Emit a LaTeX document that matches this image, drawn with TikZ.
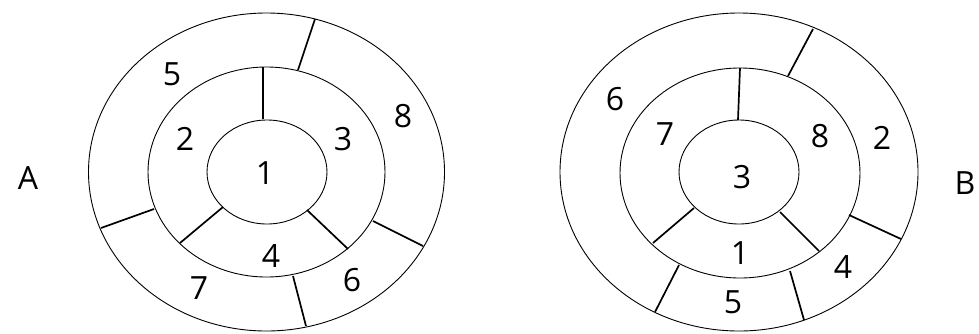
\documentclass[tikz,border=0pt]{standalone}
\usepackage{fontspec}
\setmainfont{Open Sans}
\begin{document}
\begin{tikzpicture}[x=1pt,y=-1pt,
  ring/.style={line width=0.9pt},
  divider/.style={line width=1.7pt},
  lab/.style={font=\fontsize{32}{32}\selectfont, inner sep=0pt}]
\useasboundingbox[fill=white] (0,0) rectangle (979,333);
% ---------- Diagram A ----------
\draw[ring] (266.5,172) ellipse [x radius=178, y radius=159];
\draw[ring] (266.5,172) ellipse [x radius=118.5, y radius=105];
\draw[ring] (267,172) ellipse [x radius=60, y radius=52];
\coordinate (a1) at (298,70);  \coordinate (a1o) at (315,19);
\coordinate (a2) at (263,67);  \coordinate (a2o) at (263,119);
\coordinate (a3) at (154,209); \coordinate (a3o) at (101,228);
\coordinate (a4) at (223,207); \coordinate (a4o) at (180,243);
\coordinate (a5) at (307,210); \coordinate (a5o) at (348,249);
\coordinate (a6) at (373,221); \coordinate (a6o) at (423,246);
\coordinate (a7) at (293,276); \coordinate (a7o) at (306,326);
\foreach \i in {1,...,7} \draw[divider] (a\i) -- (a\i o);
\node[lab] (A5) at (172,74) {5};
\node[lab] (A2) at (185,139) {2};
\node[lab] (A1) at (265,173) {1};
\node[lab] (A3) at (343,139) {3};
\node[lab] (A8) at (403,116) {8};
\node[lab] (A4) at (271,256) {4};
\node[lab] (A7) at (199,288) {7};
\node[lab] (A6) at (352,280) {6};
\node[lab] (LA) at (28,178) {A};
% ---------- Diagram B ----------
\draw[ring] (739,172) ellipse [x radius=179, y radius=159];
\draw[ring] (740,173) ellipse [x radius=120, y radius=105];
\draw[ring] (739,172) ellipse [x radius=60, y radius=52];
\coordinate (b1) at (788,76);  \coordinate (b1o) at (813,29);
\coordinate (b2) at (740,68);  \coordinate (b2o) at (738,120);
\coordinate (b3) at (694,208); \coordinate (b3o) at (653,243);
\coordinate (b4) at (780,212); \coordinate (b4o) at (819,251);
\coordinate (b5) at (849,215); \coordinate (b5o) at (901,239);
\coordinate (b6) at (679,265); \coordinate (b6o) at (655,312);
\coordinate (b7) at (790,271); \coordinate (b7o) at (804,320);
\foreach \i in {1,...,7} \draw[divider] (b\i) -- (b\i o);
\node[lab] (B6) at (615,99) {6};
\node[lab] (B7) at (665,134) {7};
\node[lab] (B3) at (742,177) {3};
\node[lab] (B8) at (820,136) {8};
\node[lab] (B2) at (882,138) {2};
\node[lab] (B1) at (740,253) {1};
\node[lab] (B4) at (843,267) {4};
\node[lab] (B5) at (733,302) {5};
\node[lab] (LB) at (965,183) {B};
\end{tikzpicture}
\end{document}
